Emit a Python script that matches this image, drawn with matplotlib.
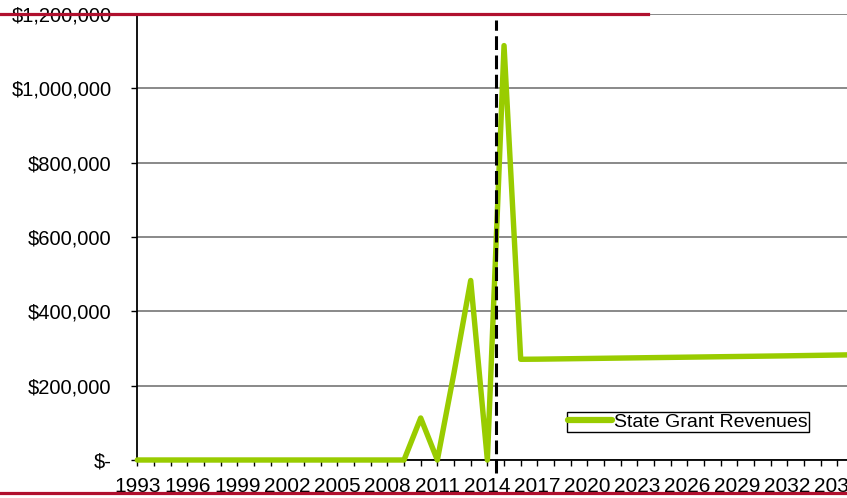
import matplotlib
matplotlib.use("Agg")
import matplotlib.pyplot as plt
from matplotlib.lines import Line2D
from matplotlib.ticker import FuncFormatter, MultipleLocator

plt.rcParams['font.family'] = ['Liberation Sans', 'DejaVu Sans']

years = list(range(1993, 2037))
revenues = [0, 0, 0, 0, 0, 0, 0, 0, 0, 0, 0, 0, 0, 0, 0, 0, 0,   # 1993-2009
            113000, 0, 235000, 483000, 0, 1115000,                 # 2010-2015
            271000, 271300, 271900, 272500, 273100, 273700, 274300, 274900,
            275500, 276100, 276700, 277300, 277900, 278500, 279100, 279700,
            280300, 281000, 281700, 282400, 283100]                # 2016-2036
series_name = "State Grant Revenues"
cutoff_year = 2014.5
y_ticks = [0, 200000, 400000, 600000, 800000, 1000000, 1200000]
x_label_years = list(range(1993, 2037, 3))

W, H = 847, 498
fig = plt.figure(figsize=(W / 100, H / 100), dpi=100)
px = 16.67
ax_left = 137.3
ax_bottom = H - 460
ax_top = H - 14
xmax = 2040
ax = fig.add_axes([ax_left / W, ax_bottom / H, (xmax - 1993) * px / W, (ax_top - ax_bottom) / H])

green = '#99CC00'
ax.plot(years, revenues, color=green, lw=3.9, solid_joinstyle='round',
        solid_capstyle='round', label=series_name, zorder=3, clip_on=False)

ax.plot([cutoff_year, cutoff_year], [-35000, 1185000], color='black', lw=2.2,
        linestyle=(0, (4.5, 1.8)), clip_on=False, zorder=4)

ax.set_xlim(1993, xmax)
ax.set_ylim(0, 1200000)
ax.set_yticks(y_ticks)

def fmt(v, pos):
    if v == 0:
        return '$-'
    return '${:,.0f}'.format(v)

ax.yaxis.set_major_formatter(FuncFormatter(fmt))
ax.set_xticks(x_label_years)
ax.set_xticklabels([str(y) for y in x_label_years])
ax.xaxis.set_minor_locator(MultipleLocator(1))

ax.grid(axis='y', color='#808080', lw=1.3, zorder=1)
ax.set_axisbelow(True)
for s in ['top', 'right']:
    ax.spines[s].set_visible(False)
ax.spines['left'].set_color('black')
ax.spines['left'].set_linewidth(1.3)
ax.spines['bottom'].set_color('black')
ax.spines['bottom'].set_linewidth(1.3)
ax.spines['bottom'].set_zorder(2)

ax.tick_params(axis='y', direction='out', length=4.5, width=1, pad=14, labelsize=14.5, colors='black')
ax.tick_params(axis='x', which='both', direction='out', length=4, width=1, pad=8.5, labelsize=15, colors='black')

leg = ax.legend(loc='lower left', bbox_to_anchor=(566.7 / W, (H - 432) / H),
                bbox_transform=fig.transFigure, borderaxespad=0, borderpad=0.05,
                handlelength=2.3, handletextpad=0.1, fontsize=14, fancybox=False,
                framealpha=1, edgecolor='black')
leg.get_frame().set_linewidth(1)
for h in leg.get_lines():
    h.set_linewidth(4.5)

red = '#B0102E'
fig.add_artist(Line2D([0, 648 / W], [(H - 14) / H] * 2, color=red, lw=2.3,
                      transform=fig.transFigure, zorder=10))
fig.add_artist(Line2D([0, 1], [(H - 493) / H] * 2, color=red, lw=2.3,
                      transform=fig.transFigure, zorder=10))

fig.savefig('out.png', dpi=100)
